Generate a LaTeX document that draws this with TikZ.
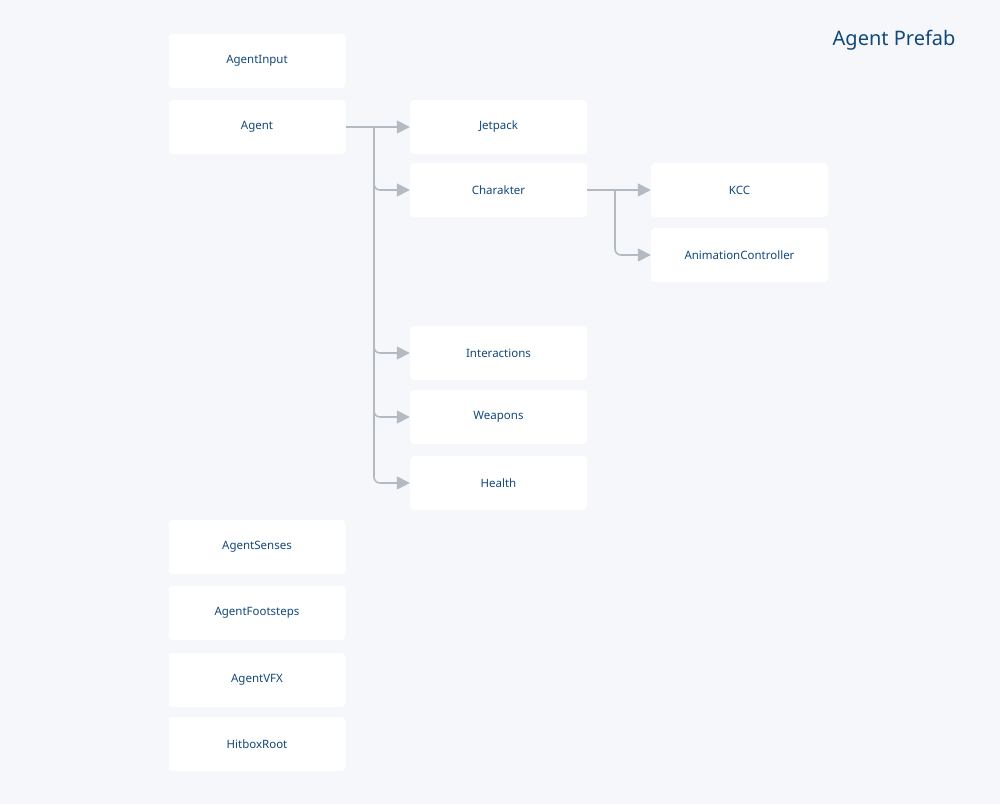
\documentclass[tikz,border=0pt]{standalone}
\usepackage{fontspec}
\setmainfont{Noto Sans}
\usetikzlibrary{arrows.meta}
\definecolor{bg}{HTML}{F5F7FA}
\definecolor{txt}{HTML}{13497A}
\definecolor{ln}{HTML}{B3BAC2}
\begin{document}
\begin{tikzpicture}[x=1pt,y=-1pt,
  box/.style={fill=white,rounded corners=4pt,minimum width=177pt,minimum height=54pt,inner sep=0pt,text=txt,font=\fontsize{11.5}{13}\selectfont},
  conn/.style={draw=ln,line width=1.6pt,rounded corners=6pt,-{Triangle[length=13pt,width=13pt]}}]
\fill[bg] (0,0) rectangle (1000,804);
\useasboundingbox (0,0) rectangle (1000,804);
\node[text=txt,font=\fontsize{20}{22}\selectfont,anchor=east] (title) at (959,40) {Agent Prefab};
\node[box] (input) at (257,61) {AgentInput};
\node[box] (agent) at (257,127) {Agent};
\node[box] (senses) at (257,547) {AgentSenses};
\node[box] (foot) at (257,613) {AgentFootsteps};
\node[box] (vfx) at (257,680) {AgentVFX};
\node[box] (hit) at (257,744) {HitboxRoot};
\node[box] (jet) at (498.5,127) {Jetpack};
\node[box] (char) at (498.5,190) {Charakter};
\node[box] (inter) at (498.5,353) {Interactions};
\node[box] (weap) at (498.5,417) {Weapons};
\node[box] (health) at (498.5,483) {Health};
\node[box] (kcc) at (739.5,190) {KCC};
\node[box] (anim) at (739.5,255) {AnimationController};
\coordinate (t1) at (374,127);
\coordinate (t2) at (615,190);
\draw[conn] (agent.east) -- (jet.west);
\draw[conn] (t1) |- (char.west);
\draw[conn] (t1) |- (inter.west);
\draw[conn] (t1) |- (weap.west);
\draw[conn] (t1) |- (health.west);
\draw[conn] (char.east) -- (kcc.west);
\draw[conn] (t2) |- (anim.west);
\end{tikzpicture}
\end{document}
